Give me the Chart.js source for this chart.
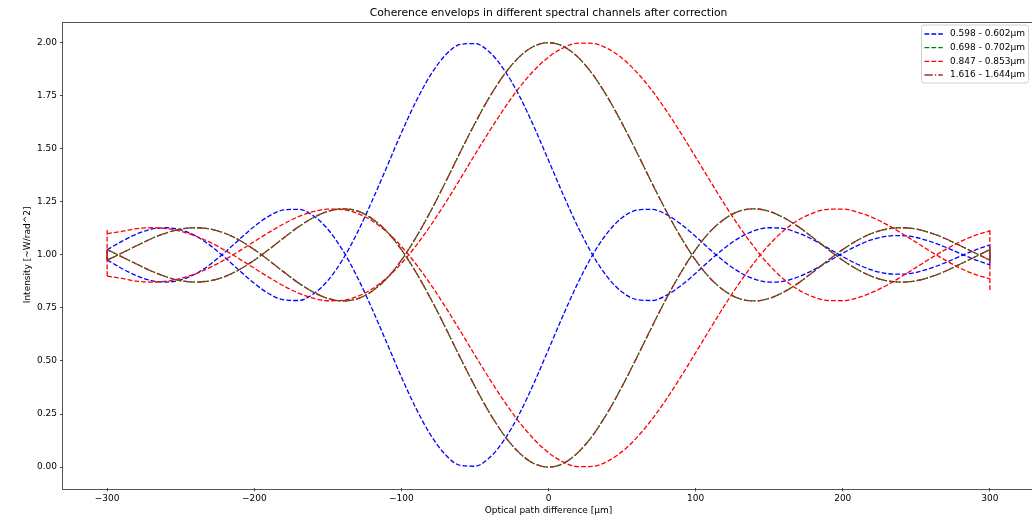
<!DOCTYPE html>
<html><head><meta charset="utf-8">
<script src="https://cdn.jsdelivr.net/npm/chart.js@4/dist/chart.umd.min.js"></script>
<style>html,body{margin:0;padding:0;background:#fff;overflow:hidden;width:1032px;height:520px}
#wrap{position:relative;width:1032px;height:520px;overflow:hidden}canvas{display:block}</style>
</head><body>
<div id="wrap"><canvas id="c" width="1036" height="520"></canvas></div>
<script>
// Optical path difference samples [µm]
const xs = [-300,-290,-280,-270,-260,-250,-240,-230,-220,-210,-200,-190,-180,-170,-160,-150,-140,-130,-120,-110,-100,-90,-80,-70,-60,-50,-40,-30,-20,-10,0,10,20,30,40,50,60,70,80,90,100,110,120,130,140,150,160,170,180,190,200,210,220,230,240,250,260,270,280,290,300];

const blueUpper = [1.024,1.064,1.098,1.121,1.128,1.118,1.090,1.045,0.988,0.926,0.866,0.817,0.788,0.785,0.815,0.879,0.977,1.104,1.253,1.413,1.575,1.724,1.850,1.942,1.992,1.996,1.955,1.871,1.752,1.606,1.446,1.284,1.132,1.000,0.896,0.825,0.789,0.785,0.809,0.855,0.913,0.976,1.034,1.082,1.114,1.128,1.124,1.103,1.071,1.032,0.992,0.956,0.928,0.912,0.909,0.918,0.938,0.964,0.994,1.023,1.047];
const blueLower = [0.976,0.936,0.902,0.879,0.872,0.882,0.910,0.955,1.012,1.074,1.134,1.183,1.212,1.215,1.185,1.121,1.023,0.896,0.747,0.587,0.425,0.276,0.150,0.058,0.008,0.004,0.045,0.129,0.248,0.394,0.554,0.716,0.868,1.000,1.104,1.175,1.211,1.215,1.191,1.145,1.087,1.024,0.966,0.918,0.886,0.872,0.876,0.897,0.929,0.968,1.008,1.044,1.072,1.088,1.091,1.082,1.062,1.036,1.006,0.977,0.953];

const greenUpper = [0.975,1.009,1.043,1.076,1.103,1.122,1.128,1.122,1.102,1.069,1.025,0.974,0.920,0.868,0.825,0.795,0.783,0.793,0.829,0.889,0.975,1.083,1.207,1.343,1.484,1.620,1.745,1.851,1.932,1.983,2.000,1.983,1.932,1.851,1.745,1.620,1.484,1.343,1.207,1.083,0.975,0.889,0.829,0.793,0.783,0.795,0.825,0.868,0.920,0.974,1.025,1.069,1.102,1.122,1.128,1.122,1.103,1.076,1.043,1.009,0.975];
const greenLower = [1.025,0.991,0.957,0.924,0.897,0.878,0.872,0.878,0.898,0.931,0.975,1.026,1.080,1.132,1.175,1.205,1.217,1.207,1.171,1.111,1.025,0.917,0.793,0.657,0.516,0.380,0.255,0.149,0.068,0.017,0.000,0.017,0.068,0.149,0.255,0.380,0.516,0.657,0.793,0.917,1.025,1.111,1.171,1.207,1.217,1.205,1.175,1.132,1.080,1.026,0.975,0.931,0.898,0.878,0.872,0.878,0.897,0.924,0.957,0.991,1.025];

const redUpper = [1.100,1.111,1.124,1.128,1.124,1.111,1.089,1.059,1.022,0.981,0.937,0.894,0.854,0.820,0.796,0.784,0.786,0.804,0.839,0.891,0.960,1.044,1.140,1.246,1.358,1.473,1.585,1.691,1.787,1.868,1.932,1.976,1.998,1.997,1.973,1.927,1.861,1.778,1.681,1.574,1.461,1.347,1.235,1.130,1.035,0.952,0.885,0.835,0.802,0.785,0.784,0.798,0.823,0.857,0.898,0.941,0.985,1.026,1.063,1.092,1.113];
const redLower = [0.900,0.889,0.876,0.872,0.876,0.889,0.911,0.941,0.978,1.019,1.063,1.106,1.146,1.180,1.204,1.216,1.214,1.196,1.161,1.109,1.040,0.956,0.860,0.754,0.642,0.527,0.415,0.309,0.213,0.132,0.068,0.024,0.002,0.003,0.027,0.073,0.139,0.222,0.319,0.426,0.539,0.653,0.765,0.870,0.965,1.048,1.115,1.165,1.198,1.215,1.216,1.202,1.177,1.143,1.102,1.059,1.015,0.974,0.937,0.908,0.887];

const brownUpper = [0.975,1.009,1.043,1.076,1.103,1.122,1.128,1.122,1.102,1.069,1.025,0.974,0.920,0.868,0.825,0.795,0.783,0.793,0.829,0.889,0.975,1.083,1.207,1.343,1.484,1.620,1.745,1.851,1.932,1.983,2.000,1.983,1.932,1.851,1.745,1.620,1.484,1.343,1.207,1.083,0.975,0.889,0.829,0.793,0.783,0.795,0.825,0.868,0.920,0.974,1.025,1.069,1.102,1.122,1.128,1.122,1.103,1.076,1.043,1.009,0.975];
const brownLower = [1.025,0.991,0.957,0.924,0.897,0.878,0.872,0.878,0.898,0.931,0.975,1.026,1.080,1.132,1.175,1.205,1.217,1.207,1.171,1.111,1.025,0.917,0.793,0.657,0.516,0.380,0.255,0.149,0.068,0.017,0.000,0.017,0.068,0.149,0.255,0.380,0.516,0.657,0.793,0.917,1.025,1.111,1.171,1.207,1.217,1.205,1.175,1.132,1.080,1.026,0.975,0.931,0.898,0.878,0.872,0.878,0.897,0.924,0.957,0.991,1.025];

// vertical end segments at the window edges: [low, high] at left (x=-300) and right (x=300)
const edgeX = [-300, 300];
const blueEdgeLeft = [0.976, 1.024], blueEdgeRight = [0.953, 1.047];
const greenEdgeLeft = [0.975, 1.025], greenEdgeRight = [0.975, 1.025];
const redEdgeLeft = [0.900, 1.125], redEdgeRight = [0.834, 1.125];
const brownEdgeLeft = [0.975, 1.025], brownEdgeRight = [0.975, 1.025];

const seriesLabels = ['0.598 - 0.602µm', '0.698 - 0.702µm', '0.847 - 0.853µm', '1.616 - 1.644µm'];
const xTicks = [-300, -200, -100, 0, 100, 200, 300];
const yTicks = [0, 0.25, 0.5, 0.75, 1.0, 1.25, 1.5, 1.75, 2.0];
const chartTitle = 'Coherence envelops in different spectral channels after correction';

const colors = ['#0000ff', '#008000', '#ff0000', '#a52a2a'];
const dashes = [[4.8, 2.1], [4.8, 2.1], [4.8, 2.1], [8.3, 2.1, 1.3, 2.1]];
const FONT = 'DejaVu Sans';

const series = [
  [blueUpper, blueLower, blueEdgeLeft, blueEdgeRight],
  [greenUpper, greenLower, greenEdgeLeft, greenEdgeRight],
  [redUpper, redLower, redEdgeLeft, redEdgeRight],
  [brownUpper, brownLower, brownEdgeLeft, brownEdgeRight]
];

function pts(ys) { return xs.map((x, i) => ({x: x, y: ys[i]})); }
function edgePts(l, r) {
  return [{x: edgeX[0], y: l[0]}, {x: edgeX[0], y: l[1]}, {x: edgeX[0], y: null},
          {x: edgeX[1], y: r[0]}, {x: edgeX[1], y: r[1]}];
}

const datasets = [];
series.forEach((s, i) => {
  const base = {borderColor: colors[i], backgroundColor: colors[i], borderDash: dashes[i],
    borderWidth: 1.3, pointRadius: 0, fill: false, order: 4 - i};
  datasets.push(Object.assign({label: seriesLabels[i], data: pts(s[0]), cubicInterpolationMode: 'monotone'}, base));
  datasets.push(Object.assign({label: seriesLabels[i] + ' (lower)', data: pts(s[1]), cubicInterpolationMode: 'monotone'}, base));
  datasets.push(Object.assign({label: seriesLabels[i] + ' (edge)', data: edgePts(s[2], s[3]), tension: 0, spanGaps: false}, base));
});

const framePlugin = {
  id: 'frame',
  afterDatasetsDraw(chart) {
    const a = chart.chartArea, ctx = chart.ctx;
    ctx.save();
    ctx.strokeStyle = '#444';
    ctx.lineWidth = 0.9;
    ctx.setLineDash([]);
    ctx.strokeRect(Math.round(a.left) - 0.5, Math.round(a.top) + 0.5, Math.round(a.right - a.left) + 1, Math.round(a.bottom - a.top));
    ctx.restore();
  }
};

const titlePlugin = {
  id: 'axTitle',
  afterDraw(chart) {
    const a = chart.chartArea, ctx = chart.ctx;
    ctx.save();
    ctx.font = '10.8px "' + FONT + '"';
    ctx.fillStyle = '#000';
    ctx.textAlign = 'center';
    ctx.textBaseline = 'middle';
    ctx.fillText(chartTitle, (a.left + a.right) / 2, 12.7);
    ctx.restore();
  }
};

const legendPlugin = {
  id: 'mplLegend',
  afterDraw(chart) {
    const ctx = chart.ctx;
    ctx.save();
    const bx = 921.5, by = 25, bw = 107, bh = 58, r = 2.5;
    ctx.beginPath();
    ctx.moveTo(bx + r, by); ctx.lineTo(bx + bw - r, by); ctx.quadraticCurveTo(bx + bw, by, bx + bw, by + r);
    ctx.lineTo(bx + bw, by + bh - r); ctx.quadraticCurveTo(bx + bw, by + bh, bx + bw - r, by + bh);
    ctx.lineTo(bx + r, by + bh); ctx.quadraticCurveTo(bx, by + bh, bx, by + bh - r);
    ctx.lineTo(bx, by + r); ctx.quadraticCurveTo(bx, by, bx + r, by);
    ctx.closePath();
    ctx.fillStyle = 'rgba(255,255,255,0.8)';
    ctx.fill();
    ctx.strokeStyle = '#d0d0d0';
    ctx.lineWidth = 1;
    ctx.stroke();
    const rows = [34, 47.7, 61.4, 75];
    ctx.font = '9px "' + FONT + '"';
    ctx.textBaseline = 'middle';
    ctx.textAlign = 'left';
    seriesLabels.forEach((lab, i) => {
      ctx.beginPath();
      ctx.setLineDash(dashes[i]);
      ctx.strokeStyle = colors[i];
      ctx.lineWidth = 1.3;
      ctx.moveTo(924.5, rows[i]); ctx.lineTo(942.8, rows[i]);
      ctx.stroke();
      ctx.setLineDash([]);
      ctx.fillStyle = '#000';
      ctx.fillText(lab, 950, rows[i]);
    });
    ctx.restore();
  }
};

new Chart(document.getElementById('c'), {
  type: 'line',
  data: {datasets: datasets},
  options: {
    responsive: false, animation: false, devicePixelRatio: 1,
    layout: {padding: {left: 0, right: 2, top: 21.5, bottom: 0}},
    plugins: {
      legend: {display: false}, tooltip: {enabled: false}, title: {display: false}
    },
    scales: {
      x: {
        type: 'linear', min: -330, max: 330,
        afterBuildTicks: s => { s.ticks = xTicks.map(v => ({value: v})); },
        afterFit: s => { s.height = 31.7; },
        ticks: {font: {family: FONT, size: 9}, color: '#000', padding: 2, maxRotation: 0, autoSkip: false,
          callback: v => v < 0 ? '\u2212' + Math.abs(v) : String(v)},
        grid: {drawOnChartArea: false, drawTicks: true, tickLength: 3, color: '#333', tickWidth: 0.9},
        border: {display: false},
        title: {display: true, text: 'Optical path difference [µm]', color: '#000',
          font: {family: FONT, size: 9}, padding: {top: 0, bottom: 3.6}}
      },
      y: {
        type: 'linear', min: -0.1, max: 2.1,
        afterBuildTicks: s => { s.ticks = yTicks.map(v => ({value: v})); },
        afterFit: s => { s.width = 63; },
        ticks: {font: {family: FONT, size: 9}, color: '#000', padding: 3, autoSkip: false,
          callback: v => Number(v).toFixed(2)},
        grid: {drawOnChartArea: false, drawTicks: true, tickLength: 3, color: '#333', tickWidth: 0.9},
        border: {display: false},
        title: {display: true, text: 'Intensity [~W/rad^2]', color: '#000',
          font: {family: FONT, size: 9}, padding: {top: 22.6, bottom: 0}}
      }
    }
  },
  plugins: [framePlugin, titlePlugin, legendPlugin]
});
</script>
</body></html>
